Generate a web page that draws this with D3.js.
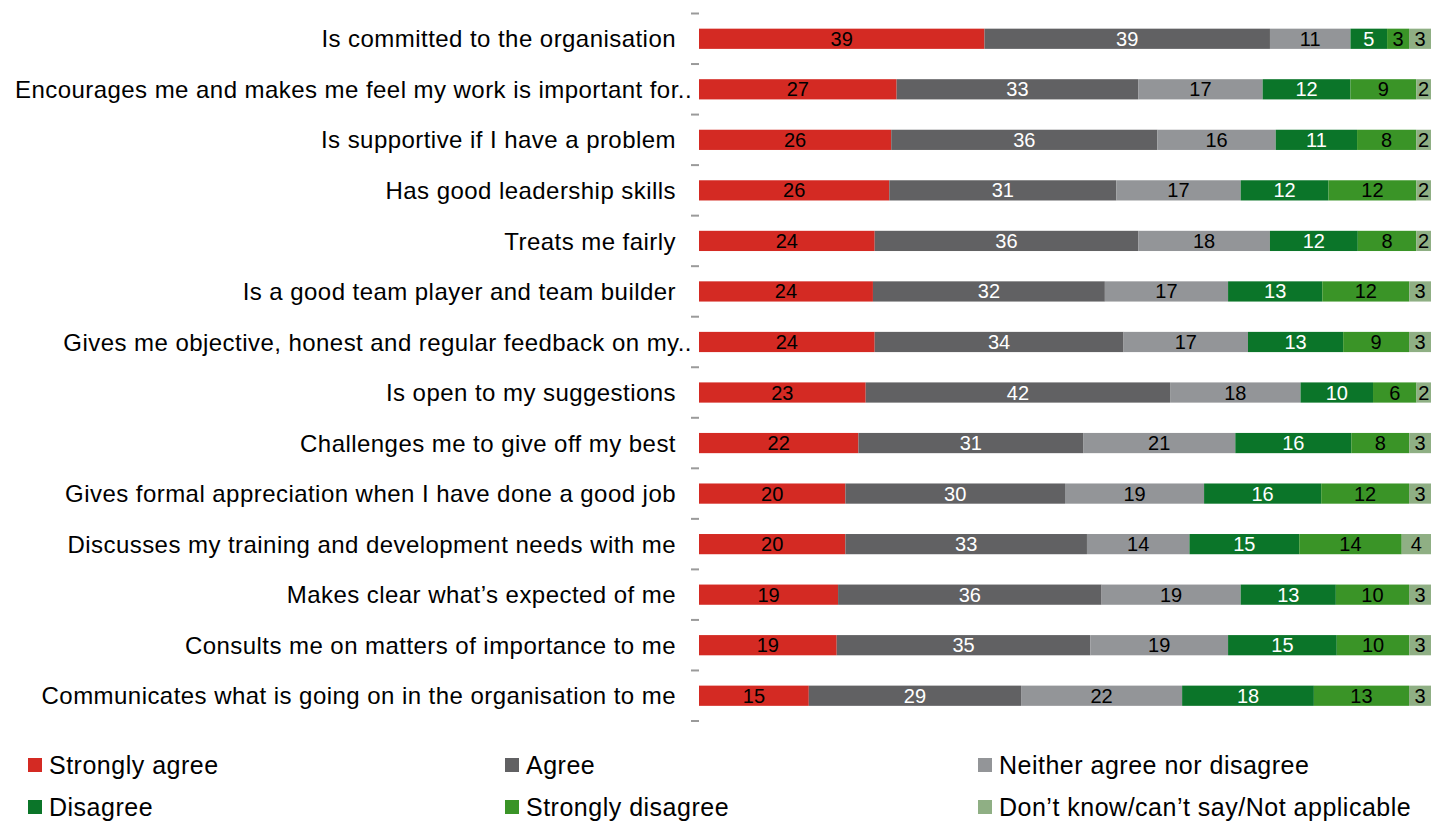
<!DOCTYPE html>
<html>
<head>
<meta charset="utf-8">
<script src="https://cdn.jsdelivr.net/npm/d3@7"></script>
<style>
  html, body { margin: 0; padding: 0; background: #ffffff; }
  svg { display: block; }
  text { font-family: "Liberation Sans", Arial, sans-serif; }
</style>
</head>
<body>
<svg id="chart" width="1435" height="822"></svg>
<script>
// Survey statements, top to bottom
const statements = [
  "Is committed to the organisation",
  "Encourages me and makes me feel my work is important for..",
  "Is supportive if I have a problem",
  "Has good leadership skills",
  "Treats me fairly",
  "Is a good team player and team builder",
  "Gives me objective, honest and regular feedback on my..",
  "Is open to my suggestions",
  "Challenges me to give off my best",
  "Gives formal appreciation when I have done a good job",
  "Discusses my training and development needs with me",
  "Makes clear what\u2019s expected of me",
  "Consults me on matters of importance to me",
  "Communicates what is going on in the organisation to me"
];

// Response categories (legend order)
const responses = [
  "Strongly agree",
  "Agree",
  "Neither agree nor disagree",
  "Disagree",
  "Strongly disagree",
  "Don\u2019t know/can\u2019t say/Not applicable"
];

// Percentages per response, one value per statement
const stronglyAgree    = [39, 27, 26, 26, 24, 24, 24, 23, 22, 20, 20, 19, 19, 15];
const agree            = [39, 33, 36, 31, 36, 32, 34, 42, 31, 30, 33, 36, 35, 29];
const neither          = [11, 17, 16, 17, 18, 17, 17, 18, 21, 19, 14, 19, 19, 22];
const disagree         = [ 5, 12, 11, 12, 12, 13, 13, 10, 16, 16, 15, 13, 15, 18];
const stronglyDisagree = [ 3,  9,  8, 12,  8, 12,  9,  6,  8, 12, 14, 10, 10, 13];
const dontKnow         = [ 3,  2,  2,  2,  2,  3,  3,  2,  3,  3,  4,  3,  3,  3];

const seriesValues = [stronglyAgree, agree, neither, disagree, stronglyDisagree, dontKnow];

const colors = ["#d42a23", "#616163", "#939598", "#0b7529", "#3a9427", "#8faf84"];
const labelColors = ["#000000", "#ffffff", "#000000", "#ffffff", "#000000", "#000000"];

// Rows for d3.stack
const rows = statements.map((s, i) => {
  const r = { statement: s };
  responses.forEach((k, j) => { r[k] = seriesValues[j][i]; });
  return r;
});

const stacked = d3.stack()
  .keys(responses)
  .offset(d3.stackOffsetExpand)(rows);

const svg = d3.select("#chart");

const x = d3.scaleLinear().domain([0, 1]).range([699, 1431]);
const y = d3.scaleBand()
  .domain(statements)
  .range([13.5, 721])
  .paddingInner(0.6)
  .paddingOuter(0.3);

// Bars
const layers = svg.append("g").selectAll("g")
  .data(stacked)
  .join("g")
  .attr("fill", (d, i) => colors[i]);

layers.selectAll("rect")
  .data(d => d)
  .join("rect")
  .attr("x", d => x(d[0]))
  .attr("y", d => y(d.data.statement))
  .attr("width", d => x(d[1]) - x(d[0]))
  .attr("height", y.bandwidth());

// Value labels inside segments
const labelLayers = svg.append("g").selectAll("g")
  .data(stacked)
  .join("g")
  .attr("fill", (d, i) => labelColors[i]);

labelLayers.selectAll("text")
  .data(d => d.map(p => ({ p, key: d.key })))
  .join("text")
  .attr("x", d => (x(d.p[0]) + x(d.p[1])) / 2)
  .attr("y", d => y(d.p.data.statement) + y.bandwidth() / 2)
  .attr("dy", "0.35em")
  .attr("text-anchor", "middle")
  .style("font-size", "20px")
  .text(d => d.p.data[d.key]);

// Category axis: labels at band centres, ticks between bands
const yAxis = d3.axisLeft(y).tickSize(0).tickPadding(0);
const axisG = svg.append("g")
  .attr("transform", "translate(676,0)")
  .call(yAxis);
axisG.select(".domain").remove();
axisG.selectAll(".tick text")
  .attr("x", d => d.endsWith("..") ? 16 : 0)
  .attr("dy", "0.36em")
  .attr("fill", "#000")
  .style("font-size", "24px")
  .style("letter-spacing", "0.45px")
  .style("font-family", "'Liberation Sans', Arial, sans-serif");

const step = y.step();
const gap = step - y.bandwidth();
const boundaries = statements.map(s => y(s) - gap / 2).concat([y(statements[statements.length - 1]) + y.bandwidth() + gap / 2]);
svg.append("g").selectAll("line")
  .data(boundaries)
  .join("line")
  .attr("x1", 691)
  .attr("x2", 699)
  .attr("y1", d => d)
  .attr("y2", d => d)
  .attr("stroke", "#9a9a9a")
  .attr("stroke-width", 2);

// Legend: three columns, two rows
const legendCols = [28, 505, 978];
const legendRows = [765, 807];
const legend = svg.append("g").selectAll("g")
  .data(responses)
  .join("g")
  .attr("transform", (d, i) => `translate(${legendCols[i % 3]},${legendRows[Math.floor(i / 3)]})`);

legend.append("rect")
  .attr("x", 0)
  .attr("y", -7)
  .attr("width", 14)
  .attr("height", 14)
  .attr("fill", (d, i) => colors[i]);

legend.append("text")
  .attr("x", 21)
  .attr("dy", "0.36em")
  .attr("fill", "#000")
  .style("font-size", "25px")
  .style("letter-spacing", "0.5px")
  .text(d => d);
</script>
</body>
</html>
